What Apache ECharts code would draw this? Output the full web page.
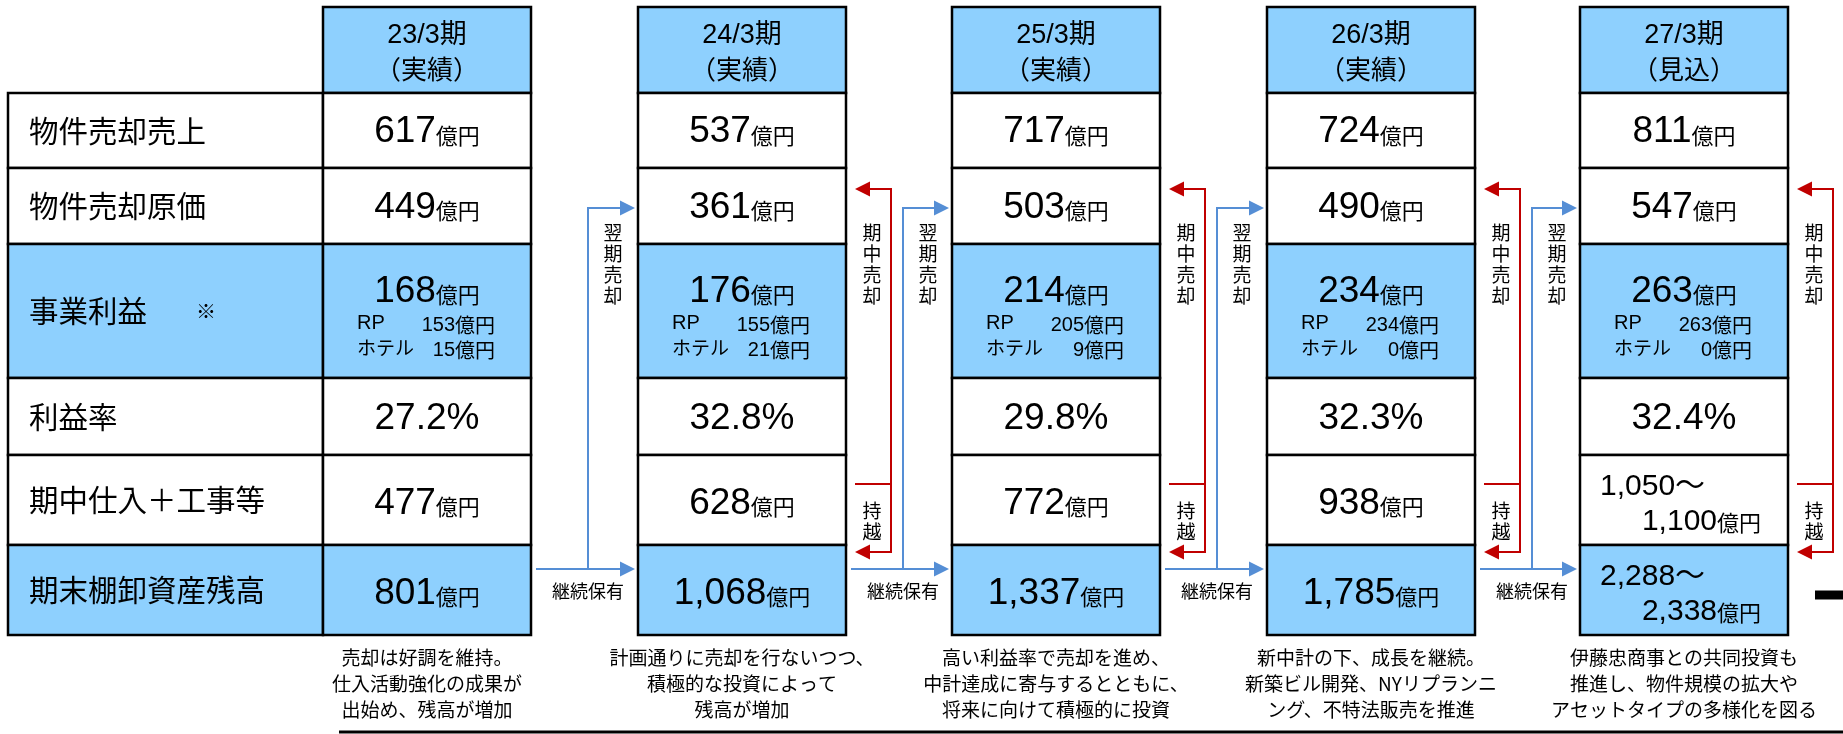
<!DOCTYPE html>
<html>
<head>
<meta charset="utf-8">
<script src="https://cdn.jsdelivr.net/npm/echarts@6/dist/echarts.min.js"></script>
<style>
  html, body { margin: 0; padding: 0; background: #ffffff; }
  #chart { width: 1843px; height: 734px; }
</style>
</head>
<body>
<div id="chart"></div>
<script>
// ---- data ----
const periods = ['23/3期', '24/3期', '25/3期', '26/3期', '27/3期'];
const periodKinds = ['（実績）', '（実績）', '（実績）', '（実績）', '（見込）'];
const rowLabels = ['物件売却売上', '物件売却原価', '事業利益', '利益率', '期中仕入＋工事等', '期末棚卸資産残高'];
const noteMark = '※';
const unit = '億円';
const salesRevenue = [617, 537, 717, 724, 811];
const salesCost = [449, 361, 503, 490, 547];
const businessProfit = [168, 176, 214, 234, 263];
const profitRP = [153, 155, 205, 234, 263];
const profitHotel = [15, 21, 9, 0, 0];
const profitMargin = [27.2, 32.8, 29.8, 32.3, 32.4];
const purchases = [477, 628, 772, 938, [1050, 1100]];
const inventory = [801, 1068, 1337, 1785, [2288, 2338]];
const subLabels = ['RP', 'ホテル'];
const flowLabels = { nextSale: '翌期売却', keep: '継続保有', inSale: '期中売却', carry: '持越' };
const notes = [
  ['売却は好調を維持。', '仕入活動強化の成果が', '出始め、残高が増加'],
  ['計画通りに売却を行ないつつ、', '積極的な投資によって', '残高が増加'],
  ['高い利益率で売却を進め、', '中計達成に寄与するとともに、', '将来に向けて積極的に投資'],
  ['新中計の下、成長を継続。', '新築ビル開発、NYリプランニ', 'ング、不特法販売を推進'],
  ['伊藤忠商事との共同投資も', '推進し、物件規模の拡大や', 'アセットタイプの多様化を図る']
];

// ---- layout (in axis units, 1 unit = 1px) ----
const L = {
  labelLeft: 8,
  colLefts: [323, 638, 952, 1267, 1580],
  colWidth: 208,
  headTop: 7,
  rowEdges: [93, 168, 244, 378, 455, 545, 635],
  blueRows: [2, 5],
  redTopY: 189, redMidY: 484, redBotY: 552,
  blueTopY: 208, blueBotY: 569,
  noteY: 684, noteLine: 26,
  baseLineY: 732, baseLineX: 339
};
const BLUE_FILL = '#8ED0FE';
const ARROW_BLUE = '#558ED5';
const ARROW_RED = '#C00000';
const JP = '"Noto Sans CJK JP", sans-serif';
const NUM = '"Liberation Sans", "Noto Sans CJK JP", sans-serif';

const fmt = v => v.toLocaleString('en-US');

// cells: [col, row]; col -1 = label column, row -1 = header
const cellData = [];
for (let c = 0; c < periods.length; c++) cellData.push([c, -1]);
for (let r = 0; r < rowLabels.length; r++) {
  for (let c = -1; c < periods.length; c++) cellData.push([c, r]);
}
const gapData = periods.map((_, i) => [i, 0]);
const noteData = notes.map((_, i) => [i, 0]);

function txt(api, x, y, text, opt) {
  const p = api.coord([x, y]);
  return {
    type: 'text',
    style: Object.assign({
      x: p[0], y: p[1], text: text, fill: '#000',
      align: 'center', verticalAlign: 'middle',
      font: '20px ' + JP
    }, opt || {})
  };
}

// number + unit: the unit's box height lifts it onto the digits' baseline
const bigRich = {
  n: { fontSize: 37, fontFamily: NUM, fill: '#000', color: '#000', lineHeight: 40, verticalAlign: 'bottom' },
  u: { fontSize: 22, fontFamily: JP, fill: '#000', color: '#000', height: 30, lineHeight: 30, verticalAlign: 'bottom' }
};
const midRich = {
  n: { fontSize: 30, fontFamily: NUM, fill: '#000', color: '#000', lineHeight: 34, verticalAlign: 'bottom' },
  u: { fontSize: 22, fontFamily: JP, fill: '#000', color: '#000', height: 28, lineHeight: 28, verticalAlign: 'bottom' }
};
const smallRich = {
  n: { fontSize: 20, fontFamily: NUM, fill: '#000', color: '#000', lineHeight: 24, verticalAlign: 'bottom' },
  u: { fontSize: 20, fontFamily: JP, fill: '#000', color: '#000', lineHeight: 24, verticalAlign: 'bottom' }
};

function valueTexts(api, c, r, x0, x1, y0, y1) {
  const cx = (x0 + x1) / 2, cy = (y0 + y1) / 2;
  const out = [];
  const amount = v => '{n|' + fmt(v) + '}{u|' + unit + '}';
  const range = v => {
    out.push(txt(api, x0 + 20, y0 + 30, '{n|' + fmt(v[0]) + '～}', { align: 'left', rich: midRich }));
    out.push(txt(api, x1 - 27, y0 + 65, '{n|' + fmt(v[1]) + '}{u|' + unit + '}', { align: 'right', rich: midRich }));
  };
  if (r === 0) out.push(txt(api, cx, cy, amount(salesRevenue[c]), { rich: bigRich }));
  else if (r === 1) out.push(txt(api, cx, cy, amount(salesCost[c]), { rich: bigRich }));
  else if (r === 2) {
    out.push(txt(api, cx, y0 + 46, amount(businessProfit[c]), { rich: bigRich }));
    out.push(txt(api, x0 + 34, y0 + 79, subLabels[0], { align: 'left', font: '20px ' + NUM }));
    out.push(txt(api, x1 - 36, y0 + 79, '{n|' + profitRP[c] + '}{u|' + unit + '}', { align: 'right', rich: smallRich }));
    out.push(txt(api, x0 + 34, y0 + 104, subLabels[1], { align: 'left', font: '19px ' + JP }));
    out.push(txt(api, x1 - 36, y0 + 104, '{n|' + profitHotel[c] + '}{u|' + unit + '}', { align: 'right', rich: smallRich }));
  } else if (r === 3) {
    out.push(txt(api, cx, cy + 2, profitMargin[c].toFixed(1) + '%', { font: '37px ' + NUM }));
  } else if (r === 4) {
    if (Array.isArray(purchases[c])) range(purchases[c]);
    else out.push(txt(api, cx, cy + 2, amount(purchases[c]), { rich: bigRich }));
  } else if (r === 5) {
    if (Array.isArray(inventory[c])) range(inventory[c]);
    else out.push(txt(api, cx, cy + 2, amount(inventory[c]), { rich: bigRich }));
  }
  return out;
}

function renderCell(params, api) {
  const c = api.value(0), r = api.value(1);
  const x0 = c < 0 ? L.labelLeft : L.colLefts[c];
  const x1 = c < 0 ? L.colLefts[0] : L.colLefts[c] + L.colWidth;
  const y0 = r < 0 ? L.headTop : L.rowEdges[r];
  const y1 = r < 0 ? L.rowEdges[0] : L.rowEdges[r + 1];
  const p0 = api.coord([x0, y0]), p1 = api.coord([x1, y1]);
  const filled = r < 0 || L.blueRows.indexOf(r) >= 0;
  const children = [{
    type: 'rect',
    shape: { x: p0[0], y: p0[1], width: p1[0] - p0[0], height: p1[1] - p0[1] },
    style: { fill: filled ? BLUE_FILL : '#ffffff', stroke: '#000', lineWidth: 2.5 }
  }];
  const cx = (x0 + x1) / 2, cy = (y0 + y1) / 2;
  if (r < 0) {
    children.push(txt(api, cx, y0 + 29, periods[c], { font: '27px ' + NUM }));
    children.push(txt(api, cx, y0 + 62, periodKinds[c], { font: '26px ' + JP }));
  } else if (c < 0) {
    children.push(txt(api, x0 + 21, cy, rowLabels[r], { align: 'left', font: '29.5px ' + JP }));
    if (r === 2) children.push(txt(api, x0 + 188, cy, noteMark, { align: 'left', font: '20px ' + JP }));
  } else {
    children.push.apply(children, valueTexts(api, c, r, x0, x1, y0, y1));
  }
  return { type: 'group', children: children };
}

function line(api, pts, color, w) {
  return { type: 'polyline', shape: { points: pts.map(p => api.coord(p)) },
           style: { stroke: color, lineWidth: w || 2, fill: null } };
}
function head(api, tip, dir, color) {
  // dir: -1 points left, +1 points right
  const len = 15, hw = 7.5;
  const pts = [tip, [tip[0] - dir * len, tip[1] - hw], [tip[0] - dir * len, tip[1] + hw]];
  return { type: 'polygon', shape: { points: pts.map(p => api.coord(p)) }, style: { fill: color } };
}
function vtext(s) { return s.split('').join('\n'); }

function renderGap(params, api) {
  const i = api.value(0);
  const xL = L.colLefts[i] + L.colWidth;
  const ch = [];
  const vfont = { font: '19px ' + JP, lineHeight: 21 };
  if (i >= 1) {
    const rx = xL + 45, tip = xL + 9;
    ch.push(line(api, [[tip + 10, L.redTopY], [rx, L.redTopY], [rx, L.redBotY], [tip + 10, L.redBotY]], ARROW_RED));
    ch.push(line(api, [[tip, L.redMidY], [rx, L.redMidY]], ARROW_RED));
    ch.push(head(api, [tip, L.redTopY], -1, ARROW_RED));
    ch.push(head(api, [tip, L.redBotY], -1, ARROW_RED));
    ch.push(txt(api, xL + 26, 264, vtext(flowLabels.inSale), vfont));
    ch.push(txt(api, xL + 26, 521, vtext(flowLabels.carry), vfont));
  }
  if (i < periods.length - 1) {
    const xR = L.colLefts[i + 1] - 3, bx = xL + 57;
    ch.push(line(api, [[xL + 5, L.blueBotY], [xR - 10, L.blueBotY]], ARROW_BLUE));
    ch.push(line(api, [[bx, L.blueBotY], [bx, L.blueTopY], [xR - 10, L.blueTopY]], ARROW_BLUE));
    ch.push(head(api, [xR, L.blueBotY], 1, ARROW_BLUE));
    ch.push(head(api, [xR, L.blueTopY], 1, ARROW_BLUE));
    ch.push(txt(api, xL + 82, 264, vtext(flowLabels.nextSale), vfont));
    ch.push(txt(api, xL + 57, 591, flowLabels.keep, { font: '18px ' + JP }));
  } else {
    ch.push(line(api, [[xL + 27, 595], [1843, 595]], '#000', 9));
  }
  return { type: 'group', children: ch };
}

function renderNote(params, api) {
  const i = api.value(0);
  const cx = L.colLefts[i] + L.colWidth / 2;
  const ch = [txt(api, cx, L.noteY, notes[i].join('\n'), { font: '19px ' + JP, lineHeight: L.noteLine })];
  if (i === 0) ch.push(line(api, [[L.baseLineX, L.baseLineY], [1843, L.baseLineY]], '#000', 3));
  return { type: 'group', children: ch };
}

const chart = echarts.init(document.getElementById('chart'), null, { renderer: 'canvas' });
chart.setOption({
  animation: false,
  backgroundColor: '#ffffff',
  grid: { left: 0, right: 0, top: 0, bottom: 0 },
  xAxis: { type: 'value', min: 0, max: 1843, show: false },
  yAxis: { type: 'value', min: 0, max: 734, inverse: true, show: false },
  series: [
    { type: 'custom', name: 'table', renderItem: renderCell, data: cellData, silent: true },
    { type: 'custom', name: 'flows', renderItem: renderGap, data: gapData, silent: true },
    { type: 'custom', name: 'notes', renderItem: renderNote, data: noteData, silent: true }
  ]
});
</script>
</body>
</html>
